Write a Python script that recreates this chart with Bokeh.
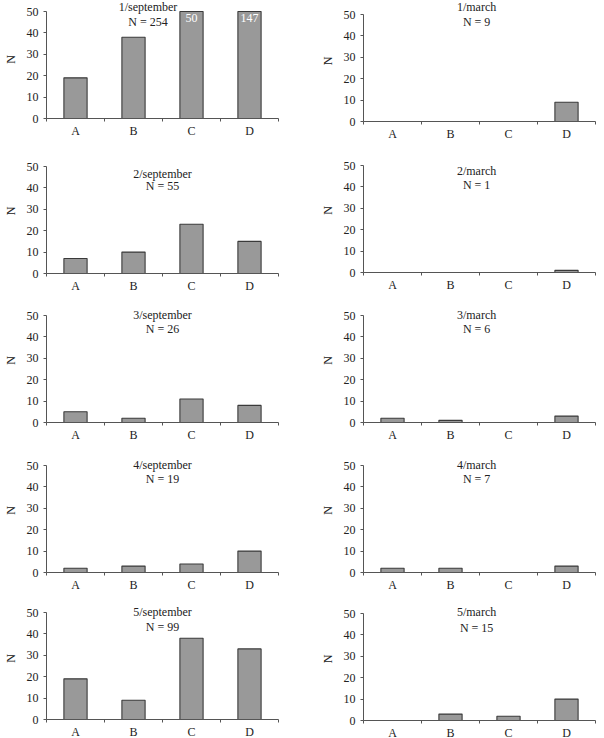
from bokeh.plotting import figure
from bokeh.layouts import column, row
from bokeh.models import FixedTicker, Label, ColumnDataSource, Range1d
from bokeh.core.properties import value
from bokeh.embed import file_html
from bokeh.resources import INLINE
import numpy as np

# Size classes on the x axis
categories = ["A", "B", "C", "D"]

# Counts per sample and season
sept_1 = [19, 38, 50, 147]
sept_2 = [7, 10, 23, 15]
sept_3 = [5, 2, 11, 8]
sept_4 = [2, 3, 4, 10]
sept_5 = [19, 9, 38, 33]

march_1 = [0, 0, 0, 9]
march_2 = [0, 0, 0, 1]
march_3 = [2, 1, 0, 3]
march_4 = [2, 2, 0, 3]
march_5 = [0, 3, 2, 10]

sept_titles = ["1/september", "2/september", "3/september", "4/september", "5/september"]
march_titles = ["1/march", "2/march", "3/march", "4/march", "5/march"]

y_ticks = [0, 10, 20, 30, 40, 50]
Y_MAX = 50

FONT = "Liberation Serif"
TXT = "#222222"
AXIS = "#555555"
FRAME_W, FRAME_H = 232, 107
PX = Y_MAX / FRAME_H  # data units per screen pixel on y


def panel(counts, title, left, right, head, bottom, t1, t2, title_x):
    # the frame reaches 'head' px above the 50 line so the titles sit inside it
    p = figure(frame_width=FRAME_W, frame_height=FRAME_H + head,
               min_border_left=left, min_border_right=right,
               min_border_top=0, min_border_bottom=bottom,
               x_range=Range1d(0, len(categories)),
               y_range=Range1d(0, Y_MAX + head * PX),
               output_backend="svg", toolbar_location=None,
               background_fill_color="white", border_fill_color="white")
    p.outline_line_color = None
    p.xgrid.visible = False
    p.ygrid.visible = False

    centers = np.arange(len(categories)) + 0.5
    counts = np.array(counts, dtype=float)
    src = ColumnDataSource(dict(x=centers, top=np.minimum(counts, Y_MAX), n=counts))
    p.vbar(x="x", top="top", width=0.4, source=src,
           fill_color="#999999", line_color="#3a3a3a", line_width=1.1)

    # values that run past the axis top are written inside the bar
    over = counts >= Y_MAX
    if over.any():
        p.text(x=centers[over], y=[Y_MAX - 6 * PX] * int(over.sum()),
               text=[str(int(v)) for v in counts[over]],
               text_font=value(FONT), text_font_size="12px", text_color="white",
               text_align="center", text_baseline="middle")

    name, ntext = title
    for txt, off in ((name, t1), (ntext, t2)):
        p.add_layout(Label(x=title_x, y=Y_MAX + off * PX, text=txt,
                           text_font=FONT, text_font_size="12px", text_color=TXT,
                           text_align="center", text_baseline="middle"))

    # x axis: labels at bar centres, tick marks between classes
    xa = p.xaxis[0]
    xa.ticker = FixedTicker(ticks=list(centers), minor_ticks=list(range(len(categories) + 1)))
    xa.major_label_overrides = {float(c): lab for c, lab in zip(centers, categories)}
    xa.major_tick_out = 0
    xa.major_tick_in = 0
    xa.minor_tick_out = 3
    xa.minor_tick_in = 0
    xa.minor_tick_line_color = AXIS
    xa.axis_line_color = AXIS
    xa.major_label_text_font = FONT
    xa.major_label_text_font_size = "12px"
    xa.major_label_text_color = TXT
    xa.major_label_standoff = 2

    ya = p.yaxis[0]
    ya.bounds = (0, Y_MAX)
    ya.ticker = FixedTicker(ticks=y_ticks, minor_ticks=[])
    ya.major_tick_out = 3
    ya.major_tick_in = 0
    ya.major_tick_line_color = AXIS
    ya.axis_line_color = AXIS
    ya.major_label_text_font = FONT
    ya.major_label_text_font_size = "12px"
    ya.major_label_text_color = TXT
    ya.major_label_standoff = 5
    ya.axis_label = "N"
    ya.axis_label_text_font = FONT
    ya.axis_label_text_font_size = "12px"
    ya.axis_label_text_font_style = "normal"
    ya.axis_label_text_color = TXT
    ya.axis_label_standoff = 6
    return p


sept = [sept_1, sept_2, sept_3, sept_4, sept_5]
march = [march_1, march_2, march_3, march_4, march_5]

# per row: (head, bottom) for left and right panels, title offsets in px
row_geom = [
    ((11, 30), (14, 27), (4.6, -10.4), (7.3, -7.7)),
    ((18, 25), (17, 26), (-7.3, -19.3), (-5.3, -19.6)),
    ((17, 26), (17, 26), (0.7, -13.6), (1.0, -13.3)),
    ((17, 25), (17, 25), (0.7, -13.6), (0.7, -13.3)),
    ((15, 17), (16, 16), (1.0, -14.0), (1.3, -14.0)),
]

rows = []
for i in range(5):
    (hl, bl), (hr, br), (l1, l2), (r1, r2) = row_geom[i]
    n_s = sum(sept[i])
    n_m = sum(march[i])
    sx = 1.75 if max(sept[i]) >= Y_MAX else 2.0
    ps = panel(sept[i], (sept_titles[i], f"N = {n_s}"), 43, 27, hl, bl, l1, l2, sx)
    pm = panel(march[i], (march_titles[i], f"N = {n_m}"), 58, 12, hr, br, r1, r2, 1.95)
    rows.append(row(ps, pm))

layout = column(*rows)

with open("out.html", "w") as f:
    f.write(file_html(layout, INLINE))
